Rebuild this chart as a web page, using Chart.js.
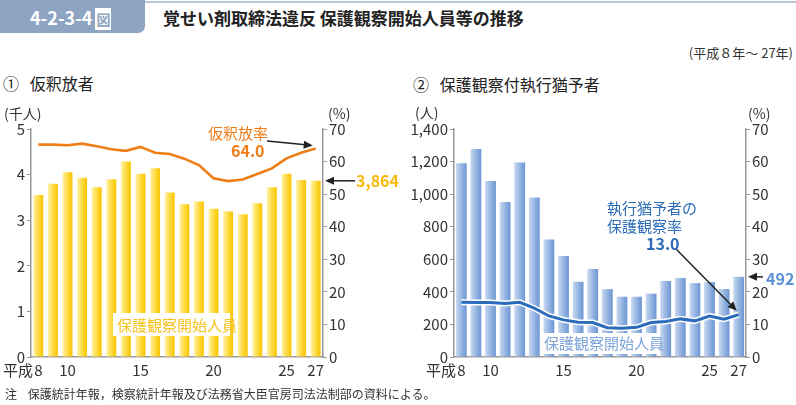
<!DOCTYPE html>
<html lang="ja">
<head>
<meta charset="utf-8">
<script src="https://cdn.jsdelivr.net/npm/chart.js@4/dist/chart.umd.min.js"></script>
<style>
  body { margin: 0; width: 796px; height: 405px; background: #fff; position: relative; overflow: hidden;
         font-family: "Noto Sans CJK JP", "Noto Sans", sans-serif; color: #222; }
  .abs { position: absolute; white-space: nowrap; line-height: 1; }
  #tab { left: 0; top: 0; width: 145px; height: 33px; background: #8da5c2; border-bottom-right-radius: 7px; }
  #topline { left: 145px; top: 1px; width: 651px; height: 2px; background: #b9c6d6; }
  canvas { position: absolute; }
</style>
</head>
<body>
<div id="tab" class="abs"></div>
<div id="topline" class="abs"></div>
<div class="abs" style="left:30px;top:8px;font-size:18px;font-weight:bold;color:#fff;">4-2-3-4<span style="background:#fff;color:#8da5c2;font-size:14px;padding:1px 1px;margin-left:3px;">図</span></div>
<div class="abs" style="left:163px;top:9px;font-size:17px;font-weight:bold;color:#222;">覚せい剤取締法違反 保護観察開始人員等の推移</div>
<div class="abs" style="right:3px;top:46px;font-size:13px;color:#333;">(平成８年～ 27年)</div>

<div class="abs" style="left:3px;top:75px;font-size:16px;color:#222;">①&nbsp;&nbsp;&nbsp;仮釈放者</div>
<div class="abs" style="left:413px;top:76px;font-size:16px;color:#222;">②&nbsp;&nbsp;&nbsp;保護観察付執行猶予者</div>

<canvas id="c1" width="400" height="285" style="left:0;top:100px;"></canvas>
<canvas id="c2" width="396" height="285" style="left:400px;top:100px;"></canvas>

<div class="abs" style="left:4px;top:106px;font-size:14px;color:#333;">(千人)</div>
<div class="abs" style="left:328px;top:106px;font-size:14px;color:#333;">(%)</div>
<div class="abs" style="left:415px;top:105px;font-size:14px;color:#333;">(人)</div>
<div class="abs" style="left:748px;top:106px;font-size:14px;color:#333;">(%)</div>

<div class="abs" style="left:3px;top:362px;font-size:15px;color:#333;">平成</div>
<div class="abs" style="left:426px;top:362px;font-size:15px;color:#333;">平成</div>

<div class="abs" style="left:208px;top:125px;font-size:15px;color:#ee7d18;">仮釈放率</div>
<div class="abs" style="left:231px;top:142px;font-size:16px;font-weight:bold;color:#ee7d18;">64.0</div>
<div class="abs" style="left:356px;top:172px;font-size:16px;font-weight:bold;color:#f6b90c;">3,864</div>
<div class="abs" style="left:113px;top:313px;width:117px;height:23px;background:#fff;"></div>
<div class="abs" style="left:117px;top:317px;font-size:15px;color:#f6c21e;">保護観察開始人員</div>

<div class="abs" style="left:607px;top:200px;font-size:15px;color:#2e6db8;">執行猶予者の</div>
<div class="abs" style="left:607px;top:218px;font-size:15px;color:#2e6db8;">保護観察率</div>
<div class="abs" style="left:646px;top:235px;font-size:16px;font-weight:bold;color:#2e6db8;">13.0</div>
<div class="abs" style="left:766px;top:270px;font-size:16px;font-weight:bold;color:#5b8fd6;">492</div>
<div class="abs" style="left:540px;top:333px;width:117px;height:21px;background:#fff;"></div>
<div class="abs" style="left:544px;top:335px;font-size:15px;color:#7ea4d9;">保護観察開始人員</div>

<div class="abs" style="left:5px;top:388px;font-size:12px;color:#333;">注&nbsp;&nbsp;&nbsp;&nbsp;保護統計年報，検察統計年報及び法務省大臣官房司法法制部の資料による。</div>

<script>
// 平成8年～27年
const years = ['8','9','10','11','12','13','14','15','16','17','18','19','20','21','22','23','24','25','26','27'];
const shownYears = ['8','10','15','20','25','27'];

// ① 仮釈放者
const paroleStarts = [3.55, 3.80, 4.05, 3.93, 3.72, 3.90, 4.29, 4.02, 4.14, 3.61, 3.35, 3.41, 3.25, 3.19, 3.13, 3.37, 3.72, 4.02, 3.88, 3.864]; // 千人
const paroleRate = [65.2, 65.2, 65.0, 65.5, 64.7, 63.8, 63.3, 64.5, 62.7, 62.3, 60.9, 58.9, 54.9, 54.0, 54.5, 56.2, 57.9, 61.0, 62.7, 64.0]; // %

// ② 保護観察付執行猶予者
const probationStarts = [1189, 1277, 1080, 951, 1195, 980, 722, 620, 462, 540, 417, 370, 370, 389, 467, 485, 454, 460, 417, 492]; // 人
const probationRate = [16.8, 16.7, 16.7, 16.4, 16.8, 15.0, 12.6, 11.4, 10.7, 10.6, 9.0, 8.8, 9.1, 10.6, 10.9, 11.7, 11.1, 12.6, 11.6, 13.0]; // %

const tickFont = { family: "'Noto Sans CJK JP', sans-serif", size: 15 };
const axisGray = '#999';

function barGradient(light, mid, dark, pct) {
  return function(ctx) {
    const c = ctx.chart;
    const xs = c.scales.x;
    if (!xs || !c.chartArea) return mid;
    const x = xs.getPixelForValue(ctx.dataIndex);
    const half = (xs.width / years.length) * pct / 2;
    const g = c.ctx.createLinearGradient(x - half, 0, x + half, 0);
    g.addColorStop(0, light);
    g.addColorStop(0.55, mid);
    g.addColorStop(1, dark);
    return g;
  };
}

function drawArrow(ctx, x1, y1, x2, y2) {
  const a = Math.atan2(y2 - y1, x2 - x1);
  const len = 9, w = 4;
  ctx.save();
  ctx.strokeStyle = '#222';
  ctx.fillStyle = '#222';
  ctx.lineWidth = 1.5;
  ctx.beginPath();
  ctx.moveTo(x1, y1);
  ctx.lineTo(x2 - Math.cos(a) * len * 0.8, y2 - Math.sin(a) * len * 0.8);
  ctx.stroke();
  ctx.beginPath();
  ctx.moveTo(x2, y2);
  ctx.lineTo(x2 - Math.cos(a) * len - Math.sin(a) * w, y2 - Math.sin(a) * len + Math.cos(a) * w);
  ctx.lineTo(x2 - Math.cos(a) * len + Math.sin(a) * w, y2 - Math.sin(a) * len - Math.cos(a) * w);
  ctx.closePath();
  ctx.fill();
  ctx.restore();
}

function makeChart(id, cfg) {
  const datasets = [
    {
      type: 'line', data: cfg.rate, yAxisID: 'y1', order: 0,
      borderColor: cfg.lineColor, borderWidth: cfg.lineWidth,
      pointRadius: 0, tension: 0, fill: false
    },
    {
      type: 'bar', data: cfg.bars, yAxisID: 'y', order: 2,
      backgroundColor: barGradient(cfg.barLight, cfg.barMid, cfg.barDark, cfg.barPct),
      borderWidth: 0, categoryPercentage: 1, barPercentage: cfg.barPct
    }
  ];
  if (cfg.outline) {
    // white halo under the rate line
    datasets.push({
      type: 'line', data: cfg.rate, yAxisID: 'y1', order: 1,
      borderColor: '#fff', borderWidth: cfg.lineWidth + 3,
      pointRadius: 0, tension: 0, fill: false
    });
  }
  return new Chart(document.getElementById(id), {
    data: { labels: years, datasets: datasets },
    options: {
      responsive: false,
      animation: false,
      layout: { padding: { top: 29, left: 0, right: 0, bottom: 0 } },
      plugins: { legend: { display: false }, tooltip: { enabled: false } },
      scales: {
        x: {
          grid: { display: false, drawTicks: false },
          border: { display: true, color: axisGray, width: 1.5 },
          ticks: {
            autoSkip: false, maxRotation: 0, padding: 4, color: '#333', font: tickFont,
            callback: function(v, i) { return shownYears.includes(years[i]) ? years[i] : ''; }
          },
          afterFit: function(s) { s.height = 28; }
        },
        y: {
          position: 'left', min: 0, max: cfg.yMax,
          ticks: {
            stepSize: cfg.yStep, padding: 2, color: '#333', font: tickFont,
            callback: function(v) { return v.toLocaleString('en-US'); }
          },
          grid: { drawOnChartArea: false, tickLength: 4, color: axisGray },
          border: { color: axisGray, width: 1.5 },
          afterFit: function(s) { s.width = cfg.leftW; }
        },
        y1: {
          position: 'right', min: 0, max: 70,
          ticks: { stepSize: 10, padding: 2, color: '#333', font: tickFont },
          grid: { drawOnChartArea: false, tickLength: 4, color: axisGray },
          border: { color: axisGray, width: 1.5 },
          afterFit: function(s) { s.width = cfg.rightW; }
        }
      }
    },
    plugins: [{
      id: 'arrows',
      afterDatasetsDraw: function(chart) {
        const n = years.length - 1;
        const lx = chart.scales.x.getPixelForValue(n);
        const ly = chart.scales.y1.getPixelForValue(cfg.rate[n]);
        const by = chart.scales.y.getPixelForValue(cfg.bars[n]);
        cfg.arrows(chart.ctx, lx, ly, by, chart.chartArea);
      }
    }]
  });
}

makeChart('c1', {
  bars: paroleStarts, rate: paroleRate, yMax: 5, yStep: 1,
  leftW: 31, rightW: 77, barPct: 0.68,
  lineColor: '#ef7e17', lineWidth: 2.6, outline: false,
  barLight: '#fff2a8', barMid: '#ffd83a', barDark: '#f7c400',
  arrows: function(ctx, lx, ly, by, area) {
    drawArrow(ctx, 267, 41, lx - 3, ly - 3);
    drawArrow(ctx, 355, by, area.right + 2, by);
  }
});

makeChart('c2', {
  bars: probationStarts, rate: probationRate, yMax: 1400, yStep: 200,
  leftW: 54, rightW: 50, barPct: 0.74,
  lineColor: '#2a6cba', lineWidth: 3, outline: true,
  barLight: '#c9d9f0', barMid: '#93b3e2', barDark: '#6b96d2',
  arrows: function(ctx, lx, ly, by, area) {
    drawArrow(ctx, 276, 149, lx - 2, ly - 4);
    drawArrow(ctx, 363, by, area.right + 2, by);
  }
});
</script>
</body>
</html>
